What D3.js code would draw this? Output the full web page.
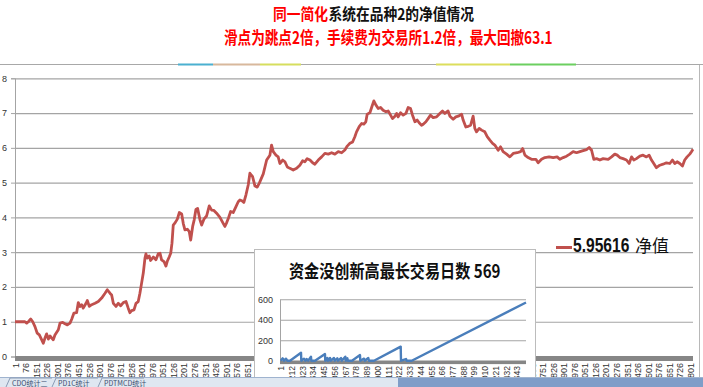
<!DOCTYPE html>
<html>
<head>
<meta charset="utf-8">
<script src="https://cdn.jsdelivr.net/npm/d3@7"></script>
<style>
body { margin: 0; background: #fff; }
svg { display: block; }
</style>
</head>
<body>
<div id="chart"></div>
<script>
var width = 703
var height = 387

// main series: bar index / net value
var navDays = [
  1, 72, 84, 96, 113, 127, 143, 159, 174, 191,
  202, 214, 226, 238, 250, 262, 273, 285, 309, 321,
  340, 356, 373, 392, 404, 420, 439, 451, 463, 475,
  486, 506, 515, 529, 546, 570, 593, 617, 641, 657,
  676, 688, 700, 719, 735, 752, 771, 790, 806, 818,
  830, 847, 861, 877, 889, 901, 913, 925, 932, 941,
  955, 965, 984, 1003, 1019, 1032, 1043, 1060, 1074, 1083,
  1098, 1108, 1117, 1126, 1140, 1155, 1169, 1186, 1197, 1209,
  1226, 1240, 1250, 1264, 1275, 1287, 1299, 1316, 1328, 1344,
  1363, 1382, 1399, 1415, 1434, 1458, 1481, 1493, 1506, 1520,
  1534, 1552, 1572, 1588, 1600, 1614, 1628, 1643, 1659, 1671,
  1690, 1707, 1723, 1737, 1766, 1790, 1813, 1825, 1837, 1856,
  1872, 1884, 1904, 1920, 1937, 1955, 1979, 2003, 2026, 2046,
  2062, 2078, 2098, 2117, 2133, 2157, 2181, 2204, 2228, 2252,
  2275, 2299, 2323, 2346, 2363, 2382, 2401, 2417, 2429, 2448,
  2465, 2481, 2495, 2505, 2524, 2538, 2552, 2567, 2583, 2600,
  2618, 2638, 2654, 2671, 2685, 2702, 2714, 2725, 2742, 2761,
  2780, 2796, 2813, 2827, 2844, 2860, 2874, 2891, 2903, 2922,
  2938, 2955, 2974, 2998, 3021, 3040, 3057, 3080, 3093, 3116,
  3135, 3152, 3176, 3187, 3206, 3223, 3240, 3258, 3270, 3282,
  3301, 3318, 3341, 3358, 3377, 3396, 3412, 3436, 3453, 3471,
  3496, 3519, 3543, 3571, 3595, 3610, 3626, 3649, 3673, 3704,
  3720, 3744, 3768, 3798, 3827, 3855, 3874, 3898, 3922, 3945,
  3969, 3993, 4017, 4040, 4064, 4083, 4100, 4116, 4135, 4159,
  4182, 4218, 4242, 4265, 4282, 4301, 4324, 4348, 4367, 4384,
  4400, 4419, 4443, 4466, 4490, 4509, 4526, 4542, 4561, 4585,
  4608, 4632, 4656, 4675, 4691, 4708, 4727, 4746, 4762, 4779,
  4798, 4810, 4821
]
var navValues = [
  1.00, 1.00, 0.96, 1.00, 1.08, 1.00, 0.86, 0.67, 0.62, 0.48,
  0.38, 0.53, 0.65, 0.50, 0.59, 0.53, 0.48, 0.62, 0.77, 0.96,
  0.98, 0.94, 0.91, 0.96, 1.07, 1.25, 1.26, 1.55, 1.44, 1.49,
  1.39, 1.53, 1.61, 1.44, 1.49, 1.53, 1.58, 1.68, 1.82, 1.92,
  1.82, 1.77, 1.53, 1.44, 1.53, 1.46, 1.55, 1.58, 1.39, 1.26,
  1.32, 1.34, 1.53, 1.58, 1.82, 2.11, 2.40, 2.83, 2.95, 2.83,
  2.89, 2.76, 2.86, 2.78, 2.95, 2.97, 2.78, 2.73, 2.60, 2.73,
  2.87, 2.97, 3.26, 3.78, 3.85, 3.95, 4.14, 4.10, 3.83, 3.64,
  3.66, 3.59, 3.35, 3.74, 3.93, 4.23, 4.26, 3.93, 3.78, 3.95,
  4.04, 4.33, 4.21, 4.20, 4.12, 4.00, 3.83, 3.74, 3.85, 4.00,
  4.17, 4.14, 4.31, 4.45, 4.50, 4.48, 4.43, 4.65, 4.93, 5.27,
  5.17, 4.90, 4.87, 4.98, 5.25, 5.65, 5.79, 6.08, 5.89, 5.79,
  5.74, 5.55, 5.65, 5.60, 5.45, 5.41, 5.36, 5.41, 5.50, 5.63,
  5.60, 5.69, 5.65, 5.57, 5.53, 5.65, 5.74, 5.84, 5.82, 5.86,
  5.82, 5.89, 5.86, 5.94, 6.05, 6.13, 6.17, 6.32, 6.46, 6.61,
  6.70, 6.68, 6.75, 6.97, 7.01, 7.18, 7.35, 7.23, 7.13, 7.16,
  7.08, 7.04, 7.06, 6.94, 6.84, 6.91, 6.99, 6.89, 7.01, 6.94,
  6.99, 7.16, 7.13, 6.94, 6.75, 6.80, 6.72, 6.65, 6.68, 6.75,
  6.84, 6.94, 6.87, 6.89, 6.99, 7.06, 6.99, 7.06, 6.91, 6.82,
  6.89, 6.91, 6.97, 6.80, 6.60, 6.62, 6.65, 6.91, 6.56, 6.46,
  6.56, 6.51, 6.46, 6.32, 6.22, 6.13, 6.08, 5.93, 6.03, 5.89,
  5.82, 5.74, 5.84, 5.86, 5.89, 5.98, 5.79, 5.72, 5.67, 5.67,
  5.57, 5.67, 5.72, 5.74, 5.72, 5.74, 5.67, 5.72, 5.76, 5.82,
  5.89, 5.86, 5.89, 5.92, 5.95, 6.01, 5.93, 5.67, 5.69, 5.65,
  5.69, 5.67, 5.74, 5.82, 5.79, 5.72, 5.69, 5.65, 5.55, 5.74,
  5.65, 5.69, 5.76, 5.79, 5.74, 5.79, 5.65, 5.55, 5.43, 5.50,
  5.53, 5.57, 5.55, 5.65, 5.55, 5.60, 5.55, 5.48, 5.65, 5.74,
  5.82, 5.89, 5.96
]
var navTicks = d3.range(1, 4822, 75)
var navYTicks = [0, 1, 2, 3, 4, 5, 6, 7, 8]

// inset series: days without a new high
var ddDays = [1, 40, 66, 105, 131, 184, 400, 406, 459, 485, 512, 543, 596, 602, 675,
  871, 877, 917, 930, 970, 983, 1048, 1062, 1113, 1127, 1186, 1200, 1270, 1278, 1310,
  1323, 1402, 1559, 1565, 1638, 1652, 1722, 1736, 1834, 2359, 2365, 2463, 2477, 2575, 4821]
var ddValues = [0, 23, 0, 20, 0, 0, 78, 0, 20, 0, 16, 0, 39, 0, 0,
  65, 0, 26, 0, 26, 0, 26, 0, 23, 0, 26, 0, 39, 0, 23,
  0, 0, 55, 0, 20, 0, 26, 0, 0, 137, 0, 16, 0, 0, 569]
var ddTicks = d3.range(1, 4822, 211)
var ddYTicks = [0, 200, 400, 600]

var sheetTabs = ["CDO统计二", "PD1C统计", "PDTMCD统计"]

var cjk = "'Noto Sans CJK SC', sans-serif"
var latin = "'Liberation Sans', Arial, sans-serif"
var red = "#c0504d"

var svg = d3.select("#chart")
    .append("svg")
    .attr("width", width)
    .attr("height", height)

// excel frame bits
svg.append("line").attr("x1", 0).attr("x2", width).attr("y1", 64.5).attr("y2", 64.5).style("stroke", "#a8a8a8")
var stripes = [[178, 213, "#4bb0d0"], [213, 260, "#d8b89c"], [260, 301, "#d6de5e"], [436, 510, "#dcde5c"], [510, 576, "#6ccf60"]]
stripes.forEach(function (s) {
  svg.append("rect").attr("x", s[0]).attr("y", 63.5).attr("width", s[1] - s[0]).attr("height", 2).style("fill", s[2])
})
svg.append("line").attr("x1", 699.5).attr("x2", 699.5).attr("y1", 65).attr("y2", 378).style("stroke", "#b8b8b8")

// titles (squeezed horizontally like the screenshot)
var t1 = svg.append("g").attr("transform", "translate(273,20) scale(0.86,1)")
    .style("font-family", cjk).style("font-size", "16px").style("font-weight", "bold")
t1.append("text").attr("x", 0).text("同一简化").style("fill", "#ff0000")
t1.append("text").attr("x", 64.5).text("系统在品种2的净值情况").style("fill", "#111")
svg.append("g").attr("transform", "translate(224,43.5) scale(0.8,1)")
    .append("text").attr("x", 0)
    .text("滑点为跳点2倍，手续费为交易所1.2倍，最大回撤63.1")
    .style("font-family", cjk).style("font-size", "17px").style("font-weight", "bold").style("fill", "#ff0000")

// main chart
var x = d3.scaleLinear().domain([1, 4821]).range([15, 693])
var y = d3.scaleLinear().domain([0, 8]).range([356.5, 78.3])

svg.append("g")
    .attr("transform", "translate(15,0)")
    .call(d3.axisLeft(y).tickValues(navYTicks.slice(1)).tickSize(-678).tickFormat(""))
    .call(function (g) { g.select(".domain").remove() })
    .selectAll("line").style("stroke", "#a4a4a4").style("stroke-width", 1.2)

var yAxis = svg.append("g")
    .attr("transform", "translate(15,0)")
    .call(d3.axisLeft(y).tickValues(navYTicks).tickSize(4).tickPadding(4))
yAxis.select(".domain").style("stroke", "#a4a4a4")
yAxis.selectAll("line").style("stroke", "#a4a4a4")
yAxis.selectAll("text").style("font-family", latin).style("font-size", "9px").style("fill", "#333")

svg.append("rect").attr("x", 15).attr("y", 356).attr("width", 678).attr("height", 5).style("fill", "#868686")

var xAxis = svg.append("g")
    .attr("transform", "translate(0,361)")
    .call(d3.axisBottom(x).tickValues(navTicks).tickSize(0).tickFormat(d3.format("d")))
xAxis.select(".domain").remove()
xAxis.selectAll("text")
    .attr("transform", "rotate(-90)")
    .attr("x", -2).attr("y", 0).attr("dy", "0.35em")
    .style("text-anchor", "end")
    .style("font-family", latin).style("font-size", "9px").style("fill", "#333")

var navLine = d3.line().x(function (d, i) { return x(navDays[i]) }).y(function (d) { return y(d) })
svg.append("path").datum(navValues).attr("d", navLine)
    .style("fill", "none").style("stroke", red).style("stroke-width", 2.8).style("stroke-linejoin", "round")

// legend
svg.append("line").attr("x1", 556).attr("x2", 572).attr("y1", 247.5).attr("y2", 247.5).style("stroke", red).style("stroke-width", 3)
svg.append("g").attr("transform", "translate(573,252) scale(0.78,1)")
    .append("text").attr("x", 0).text("5.95616")
    .style("font-family", latin).style("font-size", "20px").style("font-weight", "bold").style("fill", "#111")
svg.append("text").attr("x", 635).attr("y", 252).text("净值")
    .style("font-family", cjk).style("font-size", "17px").style("fill", "#111")

// inset chart
svg.append("rect").attr("x", 254.5).attr("y", 249.5).attr("width", 281).attr("height", 150)
    .style("fill", "#fff").style("stroke", "#bcbcbc")
svg.append("g").attr("transform", "translate(289,278) scale(0.84,1)")
    .append("text").attr("x", 0)
    .text("资金没创新高最长交易日数 569")
    .style("font-family", cjk).style("font-size", "18px").style("font-weight", "bold").style("fill", "#111")

var xi = d3.scaleLinear().domain([1, 4821]).range([280.7, 526])
var yi = d3.scaleLinear().domain([0, 600]).range([360.7, 299.3])

svg.append("g")
    .attr("transform", "translate(280,0)")
    .call(d3.axisLeft(yi).tickValues(ddYTicks.slice(1)).tickSize(-246).tickFormat(""))
    .call(function (g) { g.select(".domain").remove() })
    .selectAll("line").style("stroke", "#a4a4a4").style("stroke-width", 1.1)

var yiAxis = svg.append("g")
    .attr("transform", "translate(280,0)")
    .call(d3.axisLeft(yi).tickValues(ddYTicks).tickSize(0).tickPadding(7))
yiAxis.select(".domain").style("stroke", "#a4a4a4")
yiAxis.selectAll("text").style("font-family", latin).style("font-size", "9px").style("fill", "#333")

svg.append("rect").attr("x", 280).attr("y", 360.5).attr("width", 246).attr("height", 3.6).style("fill", "#868686")

var xiAxis = svg.append("g")
    .attr("transform", "translate(0,364)")
    .call(d3.axisBottom(xi).tickValues(ddTicks).tickSize(0).tickFormat(d3.format("d")))
xiAxis.select(".domain").remove()
xiAxis.selectAll("text")
    .attr("transform", "rotate(-90)")
    .attr("x", -2).attr("y", 0).attr("dy", "0.35em")
    .style("text-anchor", "end")
    .style("font-family", latin).style("font-size", "8.5px").style("fill", "#333")

var ddLine = d3.line().x(function (d, i) { return xi(ddDays[i]) }).y(function (d) { return yi(d) })
svg.append("path").datum(ddValues).attr("d", ddLine)
    .style("fill", "none").style("stroke", "#4a7ebb").style("stroke-width", 2.4).style("stroke-linejoin", "round")

// sheet tab bar
svg.append("rect").attr("x", 0).attr("y", 377).attr("width", width).attr("height", 10).style("fill", "#dfe7f1")
svg.append("rect").attr("x", 398).attr("y", 377).attr("width", width - 398).attr("height", 10).style("fill", "#7f9dc8")
svg.append("line").attr("x1", 0).attr("x2", width).attr("y1", 377.5).attr("y2", 377.5).style("stroke", "#9fb3cf")
var tabX = [12, 58, 104]
sheetTabs.forEach(function (t, i) {
  svg.append("path").attr("d", "M" + (tabX[i] - 6) + ",387L" + (tabX[i] - 2) + ",378L" + (tabX[i] + 40) + ",378")
      .style("fill", "none").style("stroke", "#8a9bb4")
  svg.append("text").attr("x", tabX[i]).attr("y", 385.5).text(t)
      .style("font-family", cjk).style("font-size", "7px").style("fill", "#3a4e6e")
})
</script>
</body>
</html>
